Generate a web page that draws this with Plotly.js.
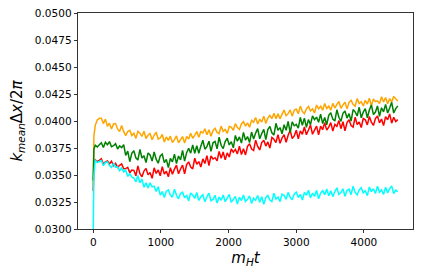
<!DOCTYPE html>
<html>
<head>
<meta charset="utf-8">
<script src="https://cdn.plot.ly/plotly-3.0.1.min.js"></script>
<style>html,body{margin:0;padding:0;background:#fff;}#chart{width:423px;height:279px;}</style>
</head>
<body>
<div id="chart"></div>
<script>
// time axis m_H t
const times = [0, 10, 30, 60, 90,
  120, 150, 180, 210, 240, 270, 300, 330, 360, 390,
  420, 450, 480, 510, 540, 570, 600, 630, 660, 690,
  720, 750, 780, 810, 840, 870, 900, 930, 960, 990,
  1020, 1050, 1080, 1110, 1140, 1170, 1200, 1230, 1260, 1290,
  1320, 1350, 1380, 1410, 1440, 1470, 1500, 1530, 1560, 1590,
  1620, 1650, 1680, 1710, 1740, 1770, 1800, 1830, 1860, 1890,
  1920, 1950, 1980, 2010, 2040, 2070, 2100, 2130, 2160, 2190,
  2220, 2250, 2280, 2310, 2340, 2370, 2400, 2430, 2460, 2490,
  2520, 2550, 2580, 2610, 2640, 2670, 2700, 2730, 2760, 2790,
  2820, 2850, 2880, 2910, 2940, 2970, 3000, 3030, 3060, 3090,
  3120, 3150, 3180, 3210, 3240, 3270, 3300, 3330, 3360, 3390,
  3420, 3450, 3480, 3510, 3540, 3570, 3600, 3630, 3660, 3690,
  3720, 3750, 3780, 3810, 3840, 3870, 3900, 3930, 3960, 3990,
  4020, 4050, 4080, 4110, 4140, 4170, 4200, 4230, 4260, 4290,
  4320, 4350, 4380, 4410, 4440, 4470, 4500];

const orangeVals = [0.03400, 0.03860, 0.03960, 0.04010, 0.04025,
  0.04025, 0.03976, 0.04017, 0.03951, 0.03979, 0.03926, 0.03972, 0.03976, 0.03926, 0.03902,
  0.03959, 0.03901, 0.03865, 0.03903, 0.03913, 0.03865, 0.03887, 0.03839, 0.03904, 0.03887,
  0.03857, 0.03906, 0.03838, 0.03868, 0.03884, 0.03826, 0.03868, 0.03896, 0.03833, 0.03843,
  0.03875, 0.03805, 0.03852, 0.03820, 0.03860, 0.03801, 0.03827, 0.03862, 0.03799, 0.03827,
  0.03856, 0.03796, 0.03857, 0.03833, 0.03887, 0.03840, 0.03867, 0.03903, 0.03849, 0.03901,
  0.03889, 0.03928, 0.03872, 0.03919, 0.03858, 0.03913, 0.03932, 0.03894, 0.03884, 0.03953,
  0.03904, 0.03922, 0.03885, 0.03949, 0.03943, 0.03914, 0.03975, 0.03940, 0.03922, 0.03973,
  0.03994, 0.03952, 0.03982, 0.03942, 0.04006, 0.03988, 0.04032, 0.03973, 0.04017, 0.03990,
  0.04045, 0.03978, 0.04027, 0.04052, 0.04021, 0.04072, 0.04021, 0.04066, 0.04020, 0.04064,
  0.04101, 0.04049, 0.04068, 0.04103, 0.04045, 0.04099, 0.04110, 0.04067, 0.04138, 0.04089,
  0.04069, 0.04113, 0.04135, 0.04093, 0.04113, 0.04074, 0.04148, 0.04112, 0.04138, 0.04100,
  0.04163, 0.04115, 0.04137, 0.04100, 0.04163, 0.04120, 0.04154, 0.04181, 0.04118, 0.04150,
  0.04175, 0.04112, 0.04173, 0.04191, 0.04152, 0.04137, 0.04207, 0.04162, 0.04178, 0.04139,
  0.04191, 0.04157, 0.04210, 0.04141, 0.04203, 0.04179, 0.04186, 0.04162, 0.04225, 0.04176,
  0.04217, 0.04160, 0.04207, 0.04176, 0.04228, 0.04205, 0.04186];

const greenVals = [0.03450, 0.03740, 0.03775, 0.03760, 0.03780,
  0.03798, 0.03755, 0.03804, 0.03781, 0.03809, 0.03762, 0.03771, 0.03790, 0.03741, 0.03770,
  0.03754, 0.03780, 0.03682, 0.03721, 0.03623, 0.03701, 0.03725, 0.03659, 0.03639, 0.03737,
  0.03657, 0.03678, 0.03616, 0.03704, 0.03686, 0.03629, 0.03713, 0.03647, 0.03609, 0.03676,
  0.03693, 0.03615, 0.03645, 0.03569, 0.03654, 0.03622, 0.03693, 0.03605, 0.03676, 0.03640,
  0.03727, 0.03629, 0.03707, 0.03748, 0.03702, 0.03779, 0.03701, 0.03771, 0.03701, 0.03767,
  0.03822, 0.03739, 0.03763, 0.03813, 0.03719, 0.03798, 0.03811, 0.03743, 0.03850, 0.03775,
  0.03744, 0.03810, 0.03841, 0.03778, 0.03809, 0.03751, 0.03866, 0.03812, 0.03853, 0.03796,
  0.03895, 0.03822, 0.03856, 0.03801, 0.03898, 0.03833, 0.03888, 0.03930, 0.03835, 0.03884,
  0.03923, 0.03828, 0.03921, 0.03950, 0.03891, 0.03870, 0.03979, 0.03914, 0.03939, 0.03882,
  0.03965, 0.03914, 0.03997, 0.03893, 0.03991, 0.03956, 0.03969, 0.03935, 0.04033, 0.03960,
  0.04027, 0.03941, 0.04013, 0.03966, 0.04047, 0.04012, 0.04036, 0.03988, 0.04064, 0.03976,
  0.04032, 0.03965, 0.04052, 0.04076, 0.04017, 0.04000, 0.04104, 0.04035, 0.03997, 0.04071,
  0.04092, 0.04027, 0.04068, 0.03999, 0.04106, 0.04085, 0.04046, 0.04127, 0.04030, 0.04082,
  0.04114, 0.04030, 0.04101, 0.04149, 0.04059, 0.04083, 0.04139, 0.04043, 0.04123, 0.04085,
  0.04154, 0.04074, 0.04121, 0.04173, 0.04074, 0.04115, 0.04140];

const redVals = [0.03350, 0.03620, 0.03640, 0.03625, 0.03635,
  0.03650, 0.03599, 0.03622, 0.03630, 0.03602, 0.03627, 0.03586, 0.03608, 0.03570, 0.03590,
  0.03602, 0.03558, 0.03559, 0.03570, 0.03521, 0.03545, 0.03543, 0.03493, 0.03584, 0.03513,
  0.03483, 0.03537, 0.03561, 0.03501, 0.03524, 0.03469, 0.03566, 0.03514, 0.03547, 0.03493,
  0.03577, 0.03509, 0.03535, 0.03484, 0.03567, 0.03507, 0.03554, 0.03592, 0.03511, 0.03556,
  0.03592, 0.03511, 0.03596, 0.03622, 0.03573, 0.03556, 0.03655, 0.03599, 0.03624, 0.03574,
  0.03649, 0.03606, 0.03680, 0.03588, 0.03677, 0.03648, 0.03660, 0.03630, 0.03719, 0.03655,
  0.03713, 0.03640, 0.03705, 0.03667, 0.03741, 0.03712, 0.03737, 0.03696, 0.03766, 0.03690,
  0.03743, 0.03686, 0.03765, 0.03789, 0.03740, 0.03727, 0.03823, 0.03764, 0.03732, 0.03800,
  0.03822, 0.03768, 0.03806, 0.03749, 0.03847, 0.03831, 0.03800, 0.03874, 0.03793, 0.03843,
  0.03873, 0.03803, 0.03868, 0.03915, 0.03837, 0.03862, 0.03915, 0.03834, 0.03909, 0.03877,
  0.03944, 0.03873, 0.03916, 0.03963, 0.03877, 0.03915, 0.03952, 0.03871, 0.03952, 0.03919,
  0.03985, 0.03915, 0.03943, 0.03985, 0.03907, 0.03969, 0.03950, 0.04004, 0.03929, 0.03993,
  0.03910, 0.03986, 0.04012, 0.03958, 0.03943, 0.04035, 0.03968, 0.03991, 0.03940, 0.04023,
  0.04011, 0.03964, 0.04042, 0.03989, 0.03959, 0.04023, 0.04046, 0.03983, 0.04018, 0.03957,
  0.04040, 0.04011, 0.04066, 0.03980, 0.04035, 0.03996, 0.04013];

const cyanVals = [0.02980, 0.03500, 0.03640, 0.03615, 0.03625,
  0.03634, 0.03586, 0.03617, 0.03621, 0.03587, 0.03570, 0.03608, 0.03572, 0.03575, 0.03541,
  0.03563, 0.03527, 0.03546, 0.03487, 0.03512, 0.03483, 0.03472, 0.03435, 0.03495, 0.03428,
  0.03461, 0.03387, 0.03427, 0.03381, 0.03428, 0.03390, 0.03396, 0.03348, 0.03391, 0.03314,
  0.03347, 0.03292, 0.03350, 0.03362, 0.03314, 0.03295, 0.03368, 0.03312, 0.03280, 0.03329,
  0.03341, 0.03289, 0.03314, 0.03260, 0.03334, 0.03315, 0.03283, 0.03338, 0.03264, 0.03298,
  0.03317, 0.03252, 0.03299, 0.03332, 0.03261, 0.03274, 0.03312, 0.03240, 0.03296, 0.03266,
  0.03314, 0.03253, 0.03285, 0.03321, 0.03246, 0.03274, 0.03302, 0.03231, 0.03295, 0.03264,
  0.03315, 0.03254, 0.03274, 0.03306, 0.03237, 0.03286, 0.03266, 0.03310, 0.03247, 0.03298,
  0.03229, 0.03290, 0.03311, 0.03268, 0.03255, 0.03332, 0.03277, 0.03296, 0.03254, 0.03322,
  0.03312, 0.03274, 0.03339, 0.03294, 0.03270, 0.03323, 0.03342, 0.03291, 0.03320, 0.03269,
  0.03338, 0.03313, 0.03359, 0.03289, 0.03333, 0.03301, 0.03358, 0.03280, 0.03332, 0.03356,
  0.03318, 0.03370, 0.03308, 0.03355, 0.03300, 0.03345, 0.03382, 0.03320, 0.03337, 0.03372,
  0.03303, 0.03359, 0.03369, 0.03318, 0.03396, 0.03339, 0.03316, 0.03362, 0.03383, 0.03335,
  0.03354, 0.03309, 0.03389, 0.03346, 0.03373, 0.03328, 0.03397, 0.03341, 0.03362, 0.03319,
  0.03386, 0.03335, 0.03371, 0.03399, 0.03327, 0.03360, 0.03345];

const xTicks = [0, 1000, 2000, 3000, 4000];
const yTicks = [0.0300, 0.0325, 0.0350, 0.0375, 0.0400, 0.0425, 0.0450, 0.0475, 0.0500];

const series = [
  {y: redVals, color: '#ff0000'},
  {y: orangeVals, color: '#ffa500'},
  {y: greenVals, color: '#008000'},
  {y: cyanVals, color: '#00ffff'}
];

const traces = series.map(s => ({
  x: times, y: s.y, type: 'scatter', mode: 'lines',
  line: {color: s.color, width: 1.5, simplify: false},
  hoverinfo: 'skip', showlegend: false
}));

const font = {family: 'DejaVu Sans, sans-serif', size: 10.5, color: '#000'};

const layout = {
  width: 423, height: 279,
  margin: {l: 78, r: 10, t: 13, b: 50},
  paper_bgcolor: '#fff', plot_bgcolor: '#fff',
  font: font,
  showlegend: false,
  xaxis: {
    range: [-225, 4725],
    tickvals: xTicks, ticktext: xTicks.map(String),
    ticks: 'outside', ticklen: 3.5, tickwidth: 0.8, tickcolor: '#000',
    showline: true, linecolor: '#000', linewidth: 0.8, mirror: true,
    showgrid: false, zeroline: false,
    tickfont: font,
    title: {text: '<i>m</i><sub><i>H</i></sub><i>t</i>', font: {family: 'DejaVu Sans, sans-serif', size: 15, color: '#000'}, standoff: 5},
    automargin: false
  },
  yaxis: {
    range: [0.03, 0.05],
    tickvals: yTicks, ticktext: yTicks.map(v => v.toFixed(4)),
    ticks: 'outside', ticklen: 3.5, tickwidth: 0.8, tickcolor: '#000',
    showline: true, linecolor: '#000', linewidth: 0.8, mirror: true,
    showgrid: false, zeroline: false,
    tickfont: font,
    title: {text: '<i>k</i><sub><i>mean</i></sub>Δ<i>x</i>/2<i>π</i>', font: {family: 'DejaVu Sans, sans-serif', size: 15, color: '#000'}, standoff: 8},
    automargin: false
  }
};

Plotly.newPlot('chart', traces, layout, {displayModeBar: false, staticPlot: true});
</script>
</body>
</html>
